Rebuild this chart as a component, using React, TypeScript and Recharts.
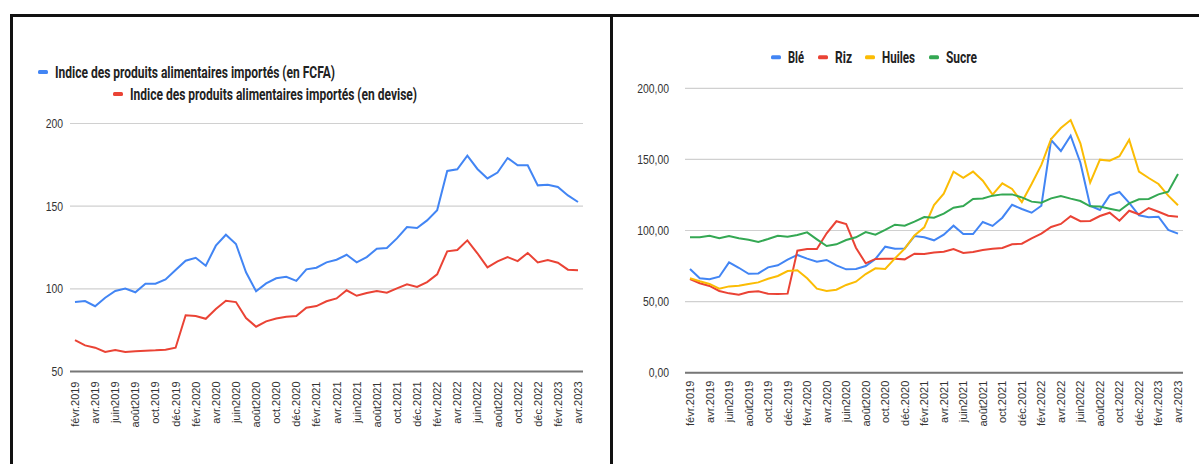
import { CartesianGrid, Line, LineChart, XAxis, YAxis } from 'recharts';

// Monthly categories, févr. 2019 → avr. 2023
const months: string[] = [
  'févr.2019', 'mars.2019', 'avr.2019', 'mai.2019', 'juin2019', 'juil.2019', 'août2019', 'sept.2019',
  'oct.2019', 'nov.2019', 'déc.2019', 'janv.2020', 'févr.2020', 'mars.2020', 'avr.2020', 'mai.2020',
  'juin2020', 'juil.2020', 'août2020', 'sept.2020', 'oct.2020', 'nov.2020', 'déc.2020', 'janv.2021',
  'févr.2021', 'mars.2021', 'avr.2021', 'mai.2021', 'juin2021', 'juil.2021', 'août2021', 'sept.2021',
  'oct.2021', 'nov.2021', 'déc.2021', 'janv.2022', 'févr.2022', 'mars.2022', 'avr.2022', 'mai.2022',
  'juin2022', 'juil.2022', 'août2022', 'sept.2022', 'oct.2022', 'nov.2022', 'déc.2022', 'janv.2023',
  'févr.2023', 'mars.2023', 'avr.2023',
];

// Indice des produits alimentaires importés
const indexFcfa: number[] = [
  92, 92.6, 89.5, 94.6, 98.7, 100.2, 97.9, 103.1, 103.1, 105.7,
  111.4, 117, 118.8, 114, 126.1, 132.7, 127.1, 110, 98.5, 103.3,
  106.4, 107.3, 104.8, 111.8, 112.8, 116, 117.6, 120.6, 116, 119.2,
  124.3, 124.7, 130.5, 137.4, 136.8, 141.4, 147.5, 171.3, 172.3, 180.5,
  172.5, 166.8, 170.3, 179.1, 174.7, 174.7, 162.6, 163, 161.6, 156.5,
  152.5,
];
const indexDevise: number[] = [
  69, 65.8, 64.4, 61.8, 63, 61.8, 62.2, 62.6, 62.8, 63.2,
  64.4, 84, 83.6, 81.9, 87.8, 92.8, 92, 82.3, 77.1, 80.3,
  82.1, 83.1, 83.5, 88.6, 89.6, 92.5, 94.2, 99.1, 95.8, 97.5,
  98.7, 97.7, 100.3, 102.7, 101.1, 104.1, 108.8, 122.7, 123.5, 129.3,
  121.5, 113, 116.6, 119.2, 116.8, 121.7, 116, 117.4, 115.8, 111.6,
  111.2,
];

// Produits de base
const ble: number[] = [
  72.9, 66.4, 65.7, 67.5, 77.6, 73.8, 69.6, 69.8, 74.1, 75.5,
  79.5, 82.8, 80.2, 78.1, 79.3, 75.5, 72.7, 73, 75, 80,
  88.6, 87.2, 87.4, 96.1, 95.2, 93.1, 97.1, 103.4, 97.5, 97.5,
  106, 103.2, 109, 118.1, 115.1, 112.5, 117.4, 163.6, 155.9, 166.7,
  147.7, 117.4, 114.4, 124.7, 127.1, 119.5, 110.7, 109.3, 109.7, 100.4,
  97.8,
];
const riz: number[] = [
  65.9, 62.9, 61, 57.5, 55.8, 54.9, 56.7, 57.2, 55.6, 55.3,
  55.6, 85.8, 87, 87, 98, 106.5, 104.6, 87.9, 76.9, 80,
  80.2, 80.2, 79.7, 83.7, 83.5, 84.6, 85.1, 87, 84.2, 84.9,
  86.3, 87.2, 87.7, 90.3, 90.7, 94.5, 97.8, 102.5, 104.6, 110,
  106.5, 106.7, 110.2, 112.5, 106.9, 113.9, 111.4, 115.8, 113.2, 110.4,
  109.7,
];
const huiles: number[] = [
  66.4, 64.3, 62.4, 59.1, 60.7, 61.2, 62.4, 63.5, 66.1, 68,
  71.5, 72, 66.4, 59.1, 57.5, 58.4, 61.7, 64, 69.4, 73.4,
  72.9, 80.4, 87.2, 96.5, 102.2, 117.9, 125.9, 141.4, 137.1, 141.4,
  135, 125.2, 133.2, 129.2, 120, 132.7, 146.1, 164.3, 172.1, 177.7,
  161.3, 133.6, 149.8, 149.1, 152.2, 163.9, 141.4, 136.9, 132.7, 124.5,
  117.7,
];
const sucre: number[] = [
  95.2, 95.2, 96.3, 94.5, 96.1, 94.5, 93.5, 91.9, 94, 96.3,
  95.6, 96.8, 98.7, 93.8, 89.1, 90.3, 93.3, 95.2, 98.9, 97,
  100.4, 104.1, 103.4, 106.2, 109.5, 109, 111.8, 116, 117.2, 122.2,
  122.5, 124.5, 125.4, 125.4, 123.3, 120.3, 119.5, 122.6, 124.3, 122.4,
  120.7, 117, 116.8, 115.3, 113.9, 119.1, 121.9, 122.2, 125.4, 127.3,
  139.7,
];

const leftTicks = [50, 100, 150, 200];
const rightTicks = [0, 50, 100, 150, 200];

const BLUE = '#4285f4';
const RED = '#ea4335';
const YELLOW = '#fbbc04';
const GREEN = '#34a853';

const leftData = months.map((m, i) => ({ month: m, fcfa: indexFcfa[i], devise: indexDevise[i] }));
const rightData = months.map((m, i) => ({
  month: m,
  ble: ble[i],
  riz: riz[i],
  huiles: huiles[i],
  sucre: sucre[i],
}));

const AXIS_FONT = '"Liberation Sans", Arial, sans-serif';
const LEGEND_FONT = 'Roboto, "Liberation Sans", Arial, sans-serif';

function makeYTick(format: (v: number) => string) {
  return (props: any) => {
    const { x, y, payload } = props;
    return (
      <g transform={`translate(${x},${y})`}>
        <text
          textAnchor="end"
          dy={4.5}
          fill="#333"
          fontSize={13}
          fontFamily={AXIS_FONT}
          transform="scale(0.8,1)"
        >
          {format(payload.value)}
        </text>
      </g>
    );
  };
}

const MonthTick = (props: any) => {
  const { x, y, payload } = props;
  return (
    <g transform={`translate(${x},${y})`}>
      <text
        transform="rotate(-90)"
        textAnchor="end"
        dy={4}
        fill="#333"
        fontSize={11}
        fontFamily={AXIS_FONT}
      >
        {payload.value}
      </text>
    </g>
  );
};

const frenchDecimal = (v: number) => v.toFixed(2).replace('.', ',');

function LegendItem({ x, y, color, label, width }: { x: number; y: number; color: string; label: string; width: number }) {
  return (
    <g>
      <rect x={x} y={y - 7.5} width={10} height={4} rx={1.5} fill={color} />
      <text
        x={x + 17}
        y={y}
        fill="#222"
        fontSize={16}
        fontWeight="bold"
        fontFamily={LEGEND_FONT}
        textLength={width}
        lengthAdjust="spacingAndGlyphs"
      >
        {label}
      </text>
    </g>
  );
}

export default function App() {
  return (
    <div
      style={{
        position: 'fixed',
        left: 0,
        top: 0,
        width: 1199,
        height: 464,
        background: '#fff',
        overflow: 'hidden',
      }}
    >
      {/* panel frames */}
      <div style={{ position: 'absolute', left: 10, top: 14, width: 1189, height: 3, background: '#111' }} />
      <div style={{ position: 'absolute', left: 10, top: 14, width: 3, height: 450, background: '#111' }} />
      <div style={{ position: 'absolute', left: 610, top: 14, width: 3, height: 450, background: '#111' }} />

      {/* left: indices */}
      <div style={{ position: 'absolute', left: 0, top: 0 }}>
        <LineChart
          width={612}
          height={464}
          data={leftData}
          margin={{ top: 123.5, right: 29, bottom: 12.5, left: 0 }}
        >
          <CartesianGrid vertical={false} stroke="#d0d0d0" strokeWidth={1.2} />
          <XAxis
            dataKey="month"
            interval={1}
            height={80}
            padding={{ left: 5, right: 5 }}
            tickLine={false}
            tickSize={0}
            tickMargin={10}
            axisLine={{ stroke: '#777', strokeWidth: 2 }}
            tick={<MonthTick />}
          />
          <YAxis
            width={70}
            domain={[50, 200]}
            ticks={leftTicks}
            axisLine={false}
            tickLine={false}
            tickSize={0}
            tickMargin={7}
            tick={makeYTick((v) => String(v))}
          />
          <Line dataKey="fcfa" stroke={BLUE} strokeWidth={2} dot={false} isAnimationActive={false} />
          <Line dataKey="devise" stroke={RED} strokeWidth={2} dot={false} isAnimationActive={false} />
        </LineChart>
      </div>

      {/* right: commodities */}
      <div style={{ position: 'absolute', left: 612, top: 0 }}>
        <LineChart
          width={587}
          height={464}
          data={rightData}
          margin={{ top: 88.3, right: 16, bottom: 11.3, left: 0 }}
        >
          <CartesianGrid vertical={false} stroke="#d0d0d0" strokeWidth={1.2} />
          <XAxis
            dataKey="month"
            interval={1}
            height={80}
            padding={{ left: 5, right: 5 }}
            tickLine={false}
            tickSize={0}
            tickMargin={8}
            axisLine={{ stroke: '#777', strokeWidth: 2 }}
            tick={<MonthTick />}
          />
          <YAxis
            width={73}
            domain={[0, 200]}
            ticks={rightTicks}
            axisLine={false}
            tickLine={false}
            tickSize={0}
            tickMargin={16}
            tick={makeYTick(frenchDecimal)}
          />
          <Line dataKey="ble" stroke={BLUE} strokeWidth={2} dot={false} isAnimationActive={false} />
          <Line dataKey="riz" stroke={RED} strokeWidth={2} dot={false} isAnimationActive={false} />
          <Line dataKey="huiles" stroke={YELLOW} strokeWidth={2} dot={false} isAnimationActive={false} />
          <Line dataKey="sucre" stroke={GREEN} strokeWidth={2} dot={false} isAnimationActive={false} />
        </LineChart>
      </div>

      {/* legends */}
      <svg width={1199} height={110} style={{ position: 'absolute', left: 0, top: 0 }}>
        <LegendItem x={38} y={77.5} color={BLUE} label="Indice des produits alimentaires importés (en FCFA)" width={280} />
        <LegendItem x={113} y={99.5} color={RED} label="Indice des produits alimentaires importés (en devise)" width={287} />
        <LegendItem x={771} y={62.7} color={BLUE} label="Blé" width={16} />
        <LegendItem x={818} y={62.7} color={RED} label="Riz" width={17} />
        <LegendItem x={865} y={62.7} color={YELLOW} label="Huiles" width={33} />
        <LegendItem x={929} y={62.7} color={GREEN} label="Sucre" width={31} />
      </svg>
    </div>
  );
}
